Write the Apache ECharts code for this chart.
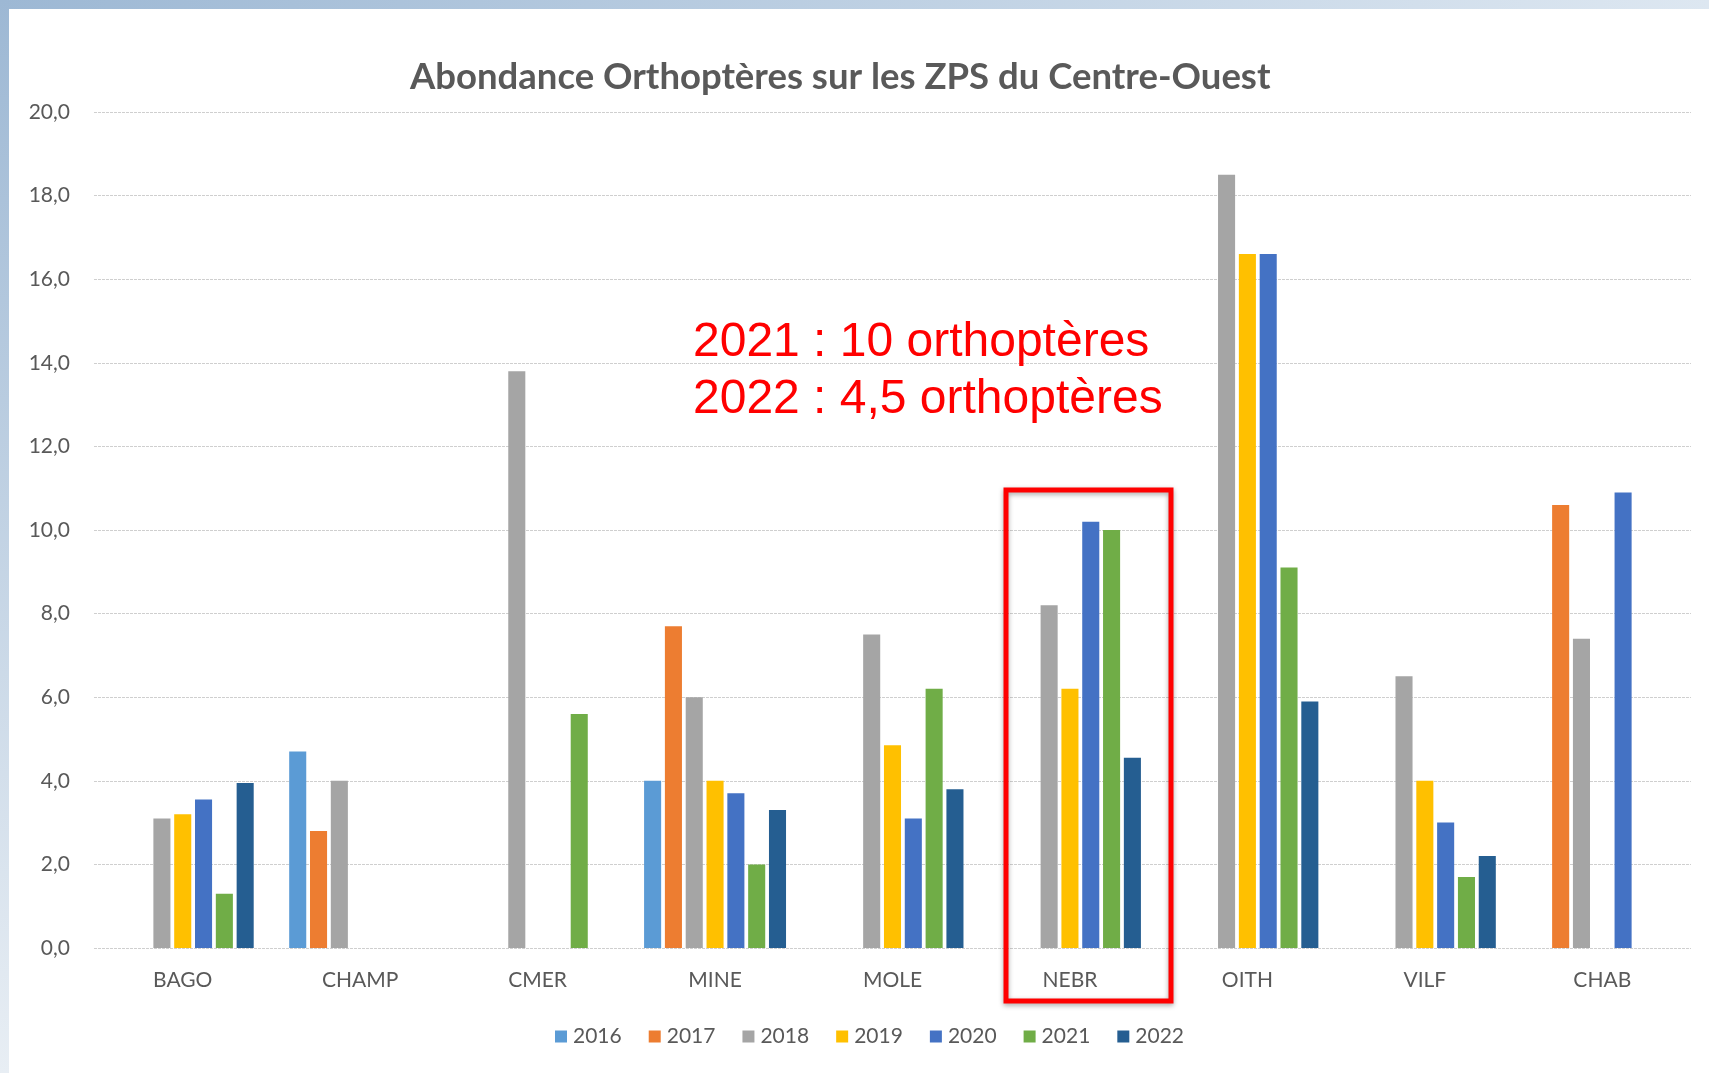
<!DOCTYPE html>
<html>
<head>
<meta charset="utf-8">
<script src="https://cdn.jsdelivr.net/npm/echarts@6/dist/echarts.min.js"></script>
<style>
html,body{margin:0;padding:0;background:#fff;}
#chart{width:1709px;height:1073px;}
</style>
</head>
<body>
<div id="chart"></div>
<script>
const categories = ['BAGO', 'CHAMP', 'CMER', 'MINE', 'MOLE', 'NEBR', 'OITH', 'VILF', 'CHAB'];
const years = ['2016', '2017', '2018', '2019', '2020', '2021', '2022'];
const v2016 = [null, 4.7, null, 4.0, null, null, null, null, null];
const v2017 = [null, 2.8, null, 7.7, null, null, null, null, 10.6];
const v2018 = [3.1, 4.0, 13.8, 6.0, 7.5, 8.2, 18.5, 6.5, 7.4];
const v2019 = [3.2, null, null, 4.0, 4.85, 6.2, 16.6, 4.0, null];
const v2020 = [3.55, null, null, 3.7, 3.1, 10.2, 16.6, 3.0, 10.9];
const v2021 = [1.3, null, 5.6, 2.0, 6.2, 10.0, 9.1, 1.7, null];
const v2022 = [3.95, null, null, 3.3, 3.8, 4.55, 5.9, 2.2, null];
const yTicks = [0, 2, 4, 6, 8, 10, 12, 14, 16, 18, 20];
const titleText = 'Abondance Orthoptères sur les ZPS du Centre-Ouest';
const noteLines = ['2021 : 10 orthoptères', '2022 : 4,5 orthoptères'];

const colors = ['#5B9BD5', '#ED7D31', '#A5A5A5', '#FFC000', '#4472C4', '#70AD47', '#255E91'];
const values = [v2016, v2017, v2018, v2019, v2020, v2021, v2022];
const FONT = 'Lato, "Open Sans", sans-serif';

const chart = echarts.init(document.getElementById('chart'), null, {renderer: 'canvas'});
const option = {
  backgroundColor: '#ffffff',
  animation: false,
  color: colors,
  title: {
    text: titleText,
    left: 410,
    top: 59,
    padding: 0,
    textStyle: {fontFamily: FONT, fontSize: 36.5, fontWeight: 'bold', color: '#595959'}
  },
  legend: {
    data: years,
    left: 555,
    top: 1026,
    padding: 0,
    itemWidth: 12,
    itemHeight: 12,
    itemGap: 27,
    icon: 'rect',
    textStyle: {fontFamily: FONT, fontSize: 21, color: '#595959', padding: [0, 0, 0, 1]}
  },
  grid: {left: 94, right: 18, top: 112, bottom: 125, containLabel: false},
  xAxis: {
    type: 'category',
    data: categories,
    axisLine: {show: false},
    axisTick: {show: false},
    axisLabel: {fontFamily: FONT, fontSize: 21, color: '#595959', margin: 22}
  },
  yAxis: {
    type: 'value',
    min: yTicks[0],
    max: yTicks[yTicks.length - 1],
    interval: yTicks[1] - yTicks[0],
    axisLine: {show: false},
    axisTick: {show: false},
    axisLabel: {
      fontFamily: FONT, fontSize: 21, color: '#595959', margin: 24,
      formatter: v => v.toFixed(1).replace('.', ',')
    },
    splitLine: {lineStyle: {color: '#cfcfcf', width: 1, type: [3, 1]}}
  },
  series: years.map((y, i) => ({
    name: y,
    type: 'bar',
    data: values[i],
    barGap: '22%',
    barCategoryGap: '20%',
    itemStyle: {color: colors[i]}
  })),
  graphic: [
    {
      type: 'rect', left: 0, top: 0, z: 100,
      shape: {width: 1709, height: 9},
      style: {fill: new echarts.graphic.LinearGradient(0, 0, 1, 0, [
        {offset: 0, color: '#9db8d4'}, {offset: 1, color: '#dde7f1'}])}
    },
    {
      type: 'rect', left: 0, top: 0, z: 100,
      shape: {width: 9, height: 1073},
      style: {fill: new echarts.graphic.LinearGradient(0, 0, 0, 1, [
        {offset: 0, color: '#9db8d4'}, {offset: 1, color: '#e8eef4'}])}
    },
    {
      type: 'text', z: 100,
      style: {x: 693, y: 343, text: noteLines[0], fill: '#ff0000',
        font: '48px "Liberation Sans", Arial, sans-serif', textVerticalAlign: 'middle'}
    },
    {
      type: 'text', z: 100,
      style: {x: 693, y: 400, text: noteLines[1], fill: '#ff0000',
        font: '48px "Liberation Sans", Arial, sans-serif', textVerticalAlign: 'middle'}
    },
    {
      type: 'rect', z: 100,
      shape: {x: 1006, y: 490, width: 165, height: 511},
      style: {fill: 'none', stroke: '#ff0000', lineWidth: 5,
        shadowBlur: 5, shadowColor: 'rgba(0,0,0,0.35)', shadowOffsetY: 2}
    }
  ]
};
chart.setOption(option);
</script>
</body>
</html>
